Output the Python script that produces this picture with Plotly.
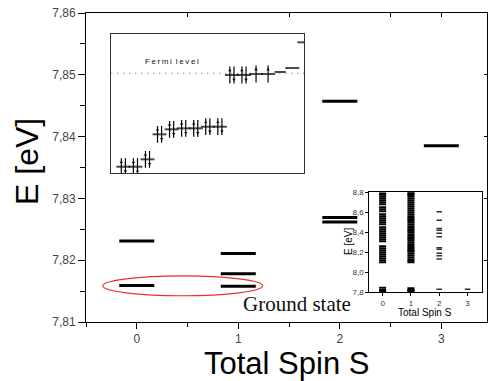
import plotly.graph_objects as go

# ---------------- data ----------------
# main panel: many-body energy levels vs total spin
main_spin = [0, 0, 1, 1, 1, 2, 2, 2, 3]
main_energy = [7.8231, 7.8159, 7.8211, 7.8178, 7.8158, 7.8457, 7.8269, 7.8262, 7.8385]
ground_spin = [0, 1]
ground_energy = [7.8159, 7.8158]

# inset 1: single-particle orbitals with occupations
orb_index = list(range(1, 17))
orb_energy = [0.066, 0.066, 0.14, 0.39, 0.44, 0.45, 0.45, 0.466, 0.466,
              0.983, 0.983, 0.993, 0.993, 1.013, 1.053, 1.31]
orb_occupancy = [2, 2, 2, 2, 2, 2, 2, 2, 2, 2, 2, 1, 1, 0, 0, 0]
fermi_level = 1.0

# inset 2: full spectrum vs total spin
spec_S0 = [7.813, 7.822, 7.846, 8.10, 8.12, 8.14, 8.16, 8.18, 8.20, 8.22, 8.24, 8.26,
           8.31, 8.33, 8.35, 8.37, 8.39, 8.41, 8.43, 8.45, 8.48, 8.50, 8.52, 8.54,
           8.56, 8.58, 8.61, 8.63, 8.65, 8.68, 8.70, 8.72, 8.74, 8.76, 8.78, 8.79]
spec_S1 = [7.813, 7.818, 7.822, 7.84, 8.10, 8.115, 8.13, 8.15, 8.17, 8.19, 8.21, 8.22,
           8.235, 8.25, 8.265, 8.28, 8.30, 8.32, 8.335, 8.35, 8.365, 8.38, 8.40,
           8.415, 8.43, 8.445, 8.46, 8.48, 8.50, 8.515, 8.53, 8.545, 8.56, 8.58,
           8.60, 8.62, 8.64, 8.66, 8.68, 8.70, 8.72, 8.74, 8.76, 8.775, 8.785, 8.795]
spec_S2 = [7.830, 8.133, 8.166, 8.19, 8.23, 8.246, 8.356, 8.39, 8.42, 8.437, 8.52, 8.606]
spec_S3 = [7.830]

main_xticks = [0, 1, 2, 3]
inset_xticks = [0, 1, 2, 3]

# ---------------- figure ----------------
fig = go.Figure()
BLACK = "#000000"

# main levels
fig.add_trace(go.Scatter(
    x=main_spin, y=main_energy, mode="markers", xaxis="x", yaxis="y",
    marker=dict(symbol="line-ew", size=25, line=dict(width=3, color=BLACK)),
    showlegend=False, hoverinfo="skip"))

# inset 1 : orbital bars
bar_size = [10 if o > 0 else (8 if e < 1.03 else 10) for o, e in zip(orb_occupancy, orb_energy)]
fig.add_trace(go.Scatter(
    x=orb_index, y=orb_energy, mode="markers", xaxis="x2", yaxis="y2",
    marker=dict(symbol="line-ew", size=bar_size, line=dict(width=2, color=BLACK)),
    showlegend=False, hoverinfo="skip"))

# arrows (spin up / spin down)
dx = 0.17      # horizontal offset of paired arrows (in orbital-index units)
dy = 0.045     # arrow head offset (in inset energy units)
up_x, up_y, dn_x, dn_y = [], [], [], []
for i, e, o in zip(orb_index, orb_energy, orb_occupancy):
    if o == 2:
        up_x.append(i - dx); up_y.append(e)
        dn_x.append(i + dx); dn_y.append(e)
    elif o == 1:
        up_x.append(i); up_y.append(e)
fig.add_trace(go.Scatter(
    x=up_x + dn_x, y=up_y + dn_y, mode="markers", xaxis="x2", yaxis="y2",
    marker=dict(symbol="line-ns", size=12, line=dict(width=1.2, color=BLACK)),
    showlegend=False, hoverinfo="skip"))
fig.add_trace(go.Scatter(
    x=up_x, y=[v + dy for v in up_y], mode="markers", xaxis="x2", yaxis="y2",
    marker=dict(symbol="triangle-up", size=3, color=BLACK),
    showlegend=False, hoverinfo="skip"))
fig.add_trace(go.Scatter(
    x=dn_x, y=[v - dy for v in dn_y], mode="markers", xaxis="x2", yaxis="y2",
    marker=dict(symbol="triangle-down", size=3, color=BLACK),
    showlegend=False, hoverinfo="skip"))
# Fermi level
fig.add_trace(go.Scatter(
    x=[0, 16], y=[fermi_level, fermi_level], mode="lines", xaxis="x2", yaxis="y2",
    line=dict(color="#3344ee", width=1, dash="1px,5px"),
    showlegend=False, hoverinfo="skip"))

# inset 2 spectrum
for s, vals in zip([0, 1, 2, 3], [spec_S0, spec_S1, spec_S2, spec_S3]):
    fig.add_trace(go.Scatter(
        x=[s] * len(vals), y=vals, mode="markers", xaxis="x4", yaxis="y4",
        marker=dict(symbol="line-ew", size=5 if s < 2 else 4,
                    line=dict(width=2 if s < 2 else 1.5, color=BLACK if s < 2 else "#333")),
        showlegend=False, hoverinfo="skip"))

# ellipse around ground states
pad_x_left, pad_x_right, pad_y = 0.335, 0.24, 0.0016
g_center = sum(ground_energy) / len(ground_energy)
fig.add_shape(type="circle", xref="x", yref="y",
              x0=min(ground_spin) - pad_x_left, x1=max(ground_spin) + pad_x_right,
              y0=g_center - pad_y, y1=g_center + pad_y,
              line=dict(color="#e8322c", width=1.2))

SANS = "Liberation Sans, Arial, sans-serif"
fig.add_annotation(x=1.58, y=7.8129, xref="x", yref="y", text="Ground state",
                   showarrow=False,
                   font=dict(family="Liberation Serif, Times New Roman, serif", size=21, color="#111"))
fig.add_annotation(x=5.07, y=1.12, xref="x2", yref="y2",
                   text="\u2009".join("Fermi") + "\u2002" + "\u2009".join("level"),
                   showarrow=False, font=dict(family=SANS, size=8, color="#111"))
# main axis titles
fig.add_annotation(x=0.5, y=-0.1327, xref="paper", yref="paper", text="Total Spin S",
                   showarrow=False, xanchor="center", yanchor="middle",
                   font=dict(family=SANS, size=31, color="#000"))
fig.add_annotation(x=-0.147, y=0.518, xref="paper", yref="paper", text="E [eV]",
                   showarrow=False, xanchor="center", yanchor="middle", textangle=-90,
                   font=dict(family=SANS, size=32, color="#000"))
# inset 2 axis titles
fig.add_annotation(x=0.845, y=0.030, xref="paper", yref="paper", text="Total Spin S",
                   showarrow=False, xanchor="center", yanchor="middle",
                   font=dict(family=SANS, size=10, color="#000"))
fig.add_annotation(x=0.656, y=0.259, xref="paper", yref="paper", text="E [eV]",
                   showarrow=False, xanchor="center", yanchor="middle", textangle=-90,
                   font=dict(family=SANS, size=10, color="#000"))

fig.update_layout(
    width=488, height=381,
    margin=dict(l=86, r=1, t=13, b=59, autoexpand=False),
    paper_bgcolor="white", plot_bgcolor="white",
    separators=",.",
    font=dict(family=SANS, color="#000"),
    xaxis=dict(domain=[0, 1], range=[-0.5, 3.45], tickvals=main_xticks, automargin=False,
               ticks="outside", ticklen=6, tickcolor="#000", showline=True,
               linecolor="#000", linewidth=1, showgrid=False, zeroline=False,
               tickfont=dict(size=12, color="#444"),
               minor=dict(dtick=0.5, ticks="outside", ticklen=4, tickcolor="#000")),
    yaxis=dict(domain=[0, 1], range=[7.81, 7.86], dtick=0.01, tickformat=".2f",
               automargin=False,
               ticks="outside", ticklen=7, tickcolor="#000", showline=True,
               linecolor="#000", linewidth=1, showgrid=False, zeroline=False,
               tickfont=dict(size=12, color="#444"),
               minor=dict(dtick=0.005, ticks="outside", ticklen=5, tickcolor="#000")),
    xaxis3=dict(overlaying="x", matches="x", side="top", showline=True, linecolor="#000",
                ticks="inside", ticklen=4, tickcolor="#000", tickvals=[0.5, 1.5, 2.5, 3],
                automargin=False,
                showticklabels=False, showgrid=False, zeroline=False),
    yaxis3=dict(overlaying="y", matches="y", side="right", showline=True, linecolor="#000",
                ticks="inside", ticklen=3, tickcolor="#000", dtick=0.01, automargin=False,
                showticklabels=False, showgrid=False, zeroline=False),
    xaxis2=dict(domain=[0.0631, 0.5444], anchor="y2", range=[0, 16], showline=True,
                mirror=True, linecolor="#333", linewidth=1, showticklabels=False,
                automargin=False,
                ticks="", showgrid=False, zeroline=False),
    yaxis2=dict(domain=[0.4812, 0.9310], anchor="x2", range=[0, 1.39], showline=True,
                mirror=True, linecolor="#333", linewidth=1, showticklabels=False,
                automargin=False,
                ticks="", showgrid=False, zeroline=False),
    xaxis4=dict(domain=[0.7065, 0.9883], anchor="y4", range=[-0.47, 3.52],
                tickvals=inset_xticks, showline=True, mirror=True, linecolor="#000",
                automargin=False,
                ticks="outside", ticklen=3, tickcolor="#000", showgrid=False, zeroline=False,
                tickfont=dict(size=8, color="#333")),
    yaxis4=dict(domain=[0.0961, 0.4197], anchor="x4", range=[7.8, 8.8], dtick=0.2,
                tickformat=".1f", showline=True, mirror=True, linecolor="#000",
                automargin=False,
                ticks="outside", ticklen=3, tickcolor="#000", showgrid=False, zeroline=False,
                tickfont=dict(size=8, color="#333")),
)
# dummy trace to activate overlay axes
fig.add_trace(go.Scatter(x=[0], y=[7.8], xaxis="x3", yaxis="y3", mode="markers",
                         marker=dict(opacity=0), showlegend=False, hoverinfo="skip"))

fig.write_html("out.html", config={"displayModeBar": False},
               post_script="document.body.style.margin='0px';")
